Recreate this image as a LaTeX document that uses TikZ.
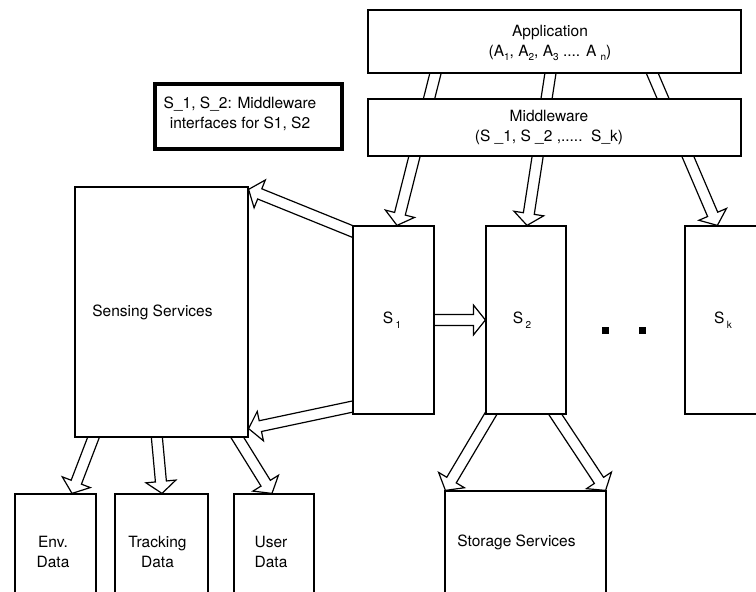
\documentclass[tikz,border=0pt]{standalone}
\usepackage{fontspec}
\setmainfont{TeX Gyre Heros}
\usetikzlibrary{calc,backgrounds}

% small lowered index used in the labels
\newcommand\sbs[1]{\raisebox{-0.55ex}{\fontsize{10}{10}\selectfont #1}}

% hollow block arrow from #1 (start, extended back into its source box) to #2 (tip)
\newcommand\hollowarrow[2]{%
  \path ($(#1)!-14pt!(#2)$) coordinate (ha-b) ($(#2)!12pt!(#1)$) coordinate (ha-h);
  \draw[hollow]
    ($(ha-b)!5.5pt!90:(#2)$) -- ($(ha-h)!5.5pt!90:(#2)$) -- ($(ha-h)!15pt!90:(#2)$) -- (#2)
    -- ($(ha-h)!15pt!-90:(#2)$) -- ($(ha-h)!5.5pt!-90:(#2)$) -- ($(ha-b)!5.5pt!-90:(#2)$) -- cycle;}

\tikzset{
  box/.style={draw, fill=white, line width=1.2pt, rectangle, inner sep=0pt},
  notebox/.style={draw, fill=white, line width=3.2pt, rectangle, inner sep=0pt},
  hollow/.style={draw, fill=white, line width=1.2pt, line join=miter},
  lbl/.style={font=\fontsize{15.5}{20}\selectfont, align=center, inner sep=0pt},
  dotsq/.style={fill=black, minimum size=7pt, inner sep=0pt, rectangle}
}

\begin{document}
\begin{tikzpicture}[x=1pt, y=-1pt]
\useasboundingbox (0,0) rectangle (756,592);

% upper layers
\node[box, minimum width=373pt, minimum height=63pt] (app) at (554.5,41.5) {};
\node[box, minimum width=373pt, minimum height=57pt] (mid) at (554.5,127.5) {};
\node[lbl] (app-t) at (550,43) {Application\\(A\sbs{1}, A\sbs{2}, A\sbs{3} .... A \sbs{n})};
\node[lbl] (mid-t) at (549,127.5) {Middleware\\(S \_1, S \_2 ,.....\ \ S\_k)};

% note
\node[notebox, minimum width=187pt, minimum height=65pt] (note) at (248.5,116.5) {};
\node[lbl] (note-t) at (240,114) {S\_1, S\_2: Middleware\\interfaces for S1, S2};

% services
\node[box, minimum width=81pt, minimum height=188pt] (s1) at (393.5,320) {};
\node[box, minimum width=80pt, minimum height=188pt] (s2) at (526,320) {};
\node[box, minimum width=115pt, minimum height=188pt] (sk) at (742.5,320) {};
\node[lbl] (s1-t) at (392,320) {S\,\sbs{1}};
\node[lbl] (s2-t) at (522,320) {S\,\sbs{2}};
\node[lbl] (sk-t) at (723,320) {S\,\sbs{k}};
\node[dotsq] (d1) at (605,330) {};
\node[dotsq] (d2) at (642,330) {};

\node[box, minimum width=173pt, minimum height=250pt] (sens) at (161.5,312) {};
\node[lbl] (sens-t) at (152.5,312) {Sensing Services};

% data stores
\node[box, minimum width=81pt, minimum height=116pt] (env) at (55.5,552) {};
\node[box, minimum width=93pt, minimum height=116pt] (trk) at (161.5,552) {};
\node[box, minimum width=80pt, minimum height=116pt] (usr) at (274,552) {};
\node[lbl] (env-t) at (53,552) {Env.\\Data};
\node[lbl] (trk-t) at (157.5,552) {Tracking\\Data};
\node[lbl] (usr-t) at (271,552) {User\\Data};

\node[box, minimum width=161pt, minimum height=119pt] (sto) at (525.5,550.5) {};
\node[lbl] (sto-t) at (516.5,542) {Storage Services};

% arrow end points
\coordinate (a1s) at ($(app.south west)+(68,0)$);
\coordinate (a1t) at ($(s1.north)+(3.5,0)$);
\coordinate (a2s) at ($(app.south west)+(183,0)$);
\coordinate (a2t) at ($(s2.north)+(1,0)$);
\coordinate (a3s) at ($(app.south west)+(285,0)$);
\coordinate (a3t) at ($(sk.north west)+(33,0)$);
\coordinate (b1s) at ($(s1.north west)+(0,6)$);
\coordinate (b1t) at ($(sens.north east)+(0,3)$);
\coordinate (b2s) at ($(s1.south west)+(0,-8)$);
\coordinate (b2t) at ($(sens.south east)+(0,-9)$);
\coordinate (c1s) at ($(sens.south west)+(19,0)$);
\coordinate (c1t) at ($(env.north)+(16.5,0)$);
\coordinate (c2s) at ($(sens.south west)+(82.5,0)$);
\coordinate (c2t) at ($(trk.north)+(0.5,0)$);
\coordinate (c3s) at ($(sens.south west)+(163,0)$);
\coordinate (c3t) at ($(usr.north)+(-2,0)$);
\coordinate (e1s) at ($(s2.south west)+(5,0)$);
\coordinate (e1t) at ($(sto.north west)+(1,0)$);
\coordinate (e2s) at ($(s2.south west)+(70,0)$);
\coordinate (e2t) at ($(sto.north east)+(-1,0)$);

\begin{scope}[on background layer]
  \fill[white] (0,0) rectangle (756,592);
  \hollowarrow{a1s}{a1t}
  \hollowarrow{a2s}{a2t}
  \hollowarrow{a3s}{a3t}
  \hollowarrow{b1s}{b1t}
  \hollowarrow{b2s}{b2t}
  \hollowarrow{s1.east}{s2.west}
  \hollowarrow{c1s}{c1t}
  \hollowarrow{c2s}{c2t}
  \hollowarrow{c3s}{c3t}
  \hollowarrow{e1s}{e1t}
  \hollowarrow{e2s}{e2t}
\end{scope}
\end{tikzpicture}
\end{document}
